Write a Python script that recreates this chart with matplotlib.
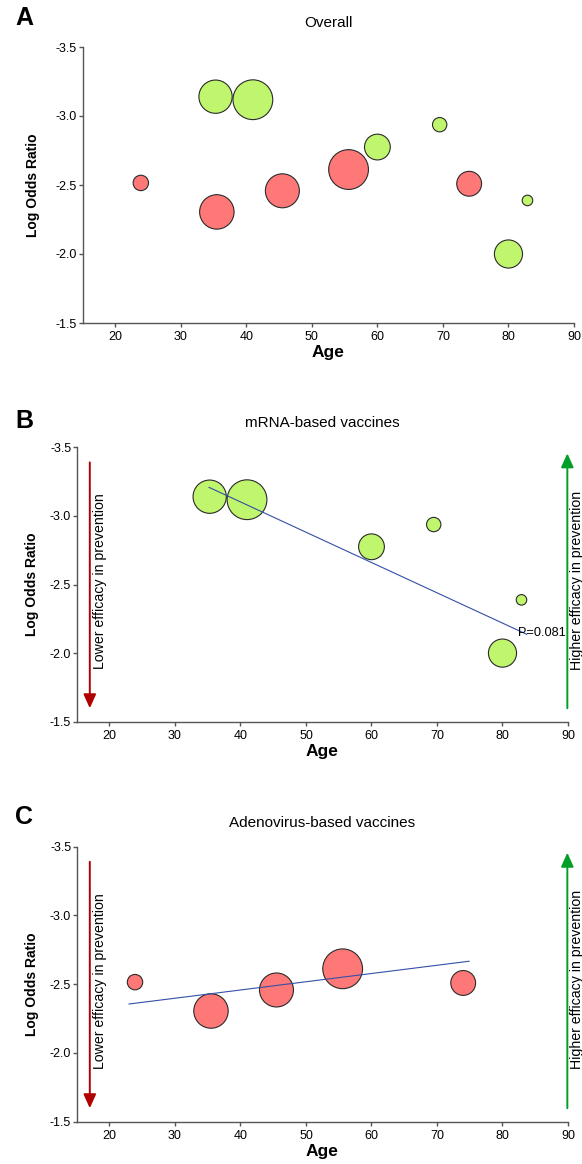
import matplotlib
matplotlib.use("Agg")
import matplotlib.pyplot as plt
from matplotlib.ticker import FormatStrFormatter, FixedLocator

plt.rcParams['font.family'] = ['Liberation Sans', 'DejaVu Sans']
plt.rcParams['axes.unicode_minus'] = False

# ---------------- data ----------------
ages_mrna = [35.3, 41.0, 60.0, 69.5, 82.9, 80.0]
lor_mrna = [-3.140, -3.118, -2.775, -2.937, -2.388, -2.000]
weights_mrna = [70, 100, 42, 13, 7, 50]

ages_adeno = [23.9, 35.5, 45.5, 55.6, 74.0]
lor_adeno = [-2.515, -2.305, -2.458, -2.612, -2.509]
weights_adeno = [15, 75, 73, 100, 39]

fit_mrna_age = [35.2, 83.7]
fit_mrna_lor = [-3.208, -2.137]
fit_adeno_age = [23.0, 74.9]
fit_adeno_lor = [-2.356, -2.667]
p_mrna = "P=0.081"

x_ticks = [20, 30, 40, 50, 60, 70, 80, 90]
y_ticks = [-3.5, -3.0, -2.5, -2.0, -1.5]
titles = ["Overall", "mRNA-based vaccines", "Adenovirus-based vaccines"]
letters = ["A", "B", "C"]

# ---------------- style ----------------
GREEN = "#C0F56E"
RED = "#FF7878"
EDGE = "#2a2a2a"
LINE = "#3350A8"
ARROW_RED = "#B00000"
ARROW_GREEN = "#00A028"
SPINE = "#555555"
SIZE_K = 8.2

W, H = 582, 1164
fig = plt.figure(figsize=(W / 100, H / 100), dpi=100)

def px_axes(left, top, right, bottom):
    return fig.add_axes([left / W, 1 - bottom / H, (right - left) / W, (bottom - top) / H])

axA = px_axes(82.5, 47, 574, 323)
axB = px_axes(76.7, 447.3, 568, 721.7)
axC = px_axes(76.7, 846.7, 568, 1121.7)

def style(ax, title):
    ax.set_xlim(15, 90)
    ax.set_ylim(-1.5, -3.5)
    ax.xaxis.set_major_locator(FixedLocator(x_ticks))
    ax.yaxis.set_major_locator(FixedLocator(y_ticks))
    ax.yaxis.set_major_formatter(FormatStrFormatter('%.1f'))
    for s in ['top', 'right']:
        ax.spines[s].set_visible(False)
    for s in ['left', 'bottom']:
        ax.spines[s].set_color(SPINE)
        ax.spines[s].set_linewidth(1.0)
    ax.tick_params(axis='both', colors=SPINE, labelcolor='black', labelsize=9,
                   length=3, width=1.0, direction='out')
    ax.tick_params(axis='y', pad=1)
    ax.tick_params(axis='x', pad=3)
    ax.text(0.5, 1.087, title, transform=ax.transAxes, ha='center', va='center', fontsize=11)
    ax.text(0.5, -0.108, "Age", transform=ax.transAxes, ha='center', va='center',
            fontsize=12.5, fontweight='bold')

def ylab(ax, xfrac):
    ax.text(xfrac, 0.5, "Log Odds Ratio", transform=ax.transAxes, rotation=90,
            ha='center', va='center', fontsize=10, fontweight='bold')

def bubbles(ax, ages, lor, w, color):
    ax.scatter(ages, lor, s=[v * SIZE_K for v in w], c=color, edgecolors=EDGE,
               linewidths=0.8, zorder=3, clip_on=False)

def arrows(ax):
    ax.annotate('', xy=(17.0, -1.598), xytext=(17.0, -3.39),
                arrowprops=dict(arrowstyle='-|>,head_length=0.4,head_width=0.18',
                                mutation_scale=21, color=ARROW_RED, lw=1.4,
                                shrinkA=0, shrinkB=0), zorder=2)
    ax.annotate('', xy=(89.9, -3.456), xytext=(89.9, -1.598),
                arrowprops=dict(arrowstyle='-|>,head_length=0.4,head_width=0.18',
                                mutation_scale=21, color=ARROW_GREEN, lw=1.4,
                                shrinkA=0, shrinkB=0), zorder=2, annotation_clip=False)
    ax.text(18.5, -2.523, "Lower efficacy in prevention", rotation=90,
            ha='center', va='center', fontsize=10.2)
    ax.text(91.3, -2.532, "Higher efficacy in prevention", rotation=90,
            ha='center', va='center', fontsize=10.2, clip_on=False)

# Panel A
style(axA, titles[0])
ylab(axA, -0.1007)
bubbles(axA, ages_adeno, lor_adeno, weights_adeno, RED)
bubbles(axA, ages_mrna, lor_mrna, weights_mrna, GREEN)

# Panel B
style(axB, titles[1])
ylab(axB, -0.0905)
arrows(axB)
bubbles(axB, ages_mrna, lor_mrna, weights_mrna, GREEN)
axB.plot(fit_mrna_age, fit_mrna_lor, color=LINE, lw=0.8, zorder=4)
axB.text(82.4, -2.144, p_mrna, ha='left', va='center', fontsize=9.2, zorder=5)

# Panel C
style(axC, titles[2])
ylab(axC, -0.0905)
arrows(axC)
bubbles(axC, ages_adeno, lor_adeno, weights_adeno, RED)
axC.plot(fit_adeno_age, fit_adeno_lor, color=LINE, lw=0.8, zorder=4)

# Panel letters
for letter, (px, py) in zip(letters, [(24, 18), (24.5, 421.3), (23.7, 816.7)]):
    fig.text(px / W, 1 - py / H, letter, ha='center', va='center', fontsize=18,
             fontweight='bold')

fig.savefig("out.png", dpi=100)
